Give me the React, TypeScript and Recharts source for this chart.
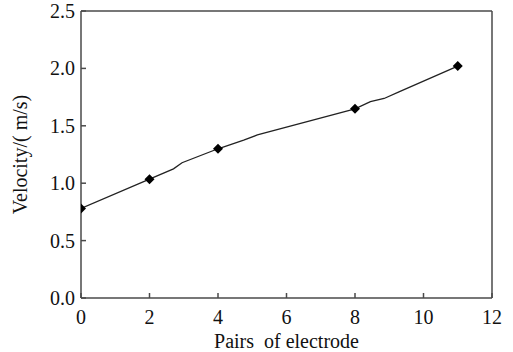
import React from "react";
import { ComposedChart, Line, Scatter, XAxis, YAxis, ReferenceLine, Label } from "recharts";

// measured points (diamonds)
const pointX = [0, 2, 4, 8, 11];
const pointY = [0.78, 1.035, 1.3, 1.648, 2.02];

// traced connecting curve (slightly wavy between the points)
const curveX = [0, 2, 2.7, 2.95, 4, 4.75, 5.15, 8, 8.45, 8.85, 9.3, 11];
const curveY = [0.78, 1.035, 1.125, 1.178, 1.3, 1.376, 1.42, 1.648, 1.71, 1.738, 1.797, 2.02];

const xTicks = [0, 2, 4, 6, 8, 10, 12];
const yTicks = [0, 0.5, 1.0, 1.5, 2.0, 2.5];

const curve = curveX.map((x, i) => ({ x, v: curveY[i] }));
const points = pointX.map((x, i) => ({ x, y: pointY[i] }));

const AXIS = "#4a4a4a";
const FONT = "Liberation Serif";

const XTick = (props: any) => {
  const { x, y, payload } = props;
  return (
    <g>
      <line x1={x} y1={y} x2={x} y2={y - 5} stroke={AXIS} strokeWidth={1.5} />
      <text x={x} y={y + 26} textAnchor="middle" fontSize={20} fontFamily={FONT} fill="#111">
        {payload.value}
      </text>
    </g>
  );
};

const YTick = (props: any) => {
  const { x, y, payload } = props;
  return (
    <g>
      <line x1={x} y1={y} x2={x + 5} y2={y} stroke={AXIS} strokeWidth={1.5} />
      <text x={x - 6} y={y + 7} textAnchor="end" fontSize={20} fontFamily={FONT} fill="#111">
        {Number(payload.value).toFixed(1)}
      </text>
    </g>
  );
};

const Diamond = (props: any) => {
  const { cx, cy } = props;
  const r = 5;
  return <path d={`M${cx},${cy - r}L${cx + r},${cy}L${cx},${cy + r}L${cx - r},${cy}Z`} fill="#000" />;
};

export default function App() {
  return (
    <div style={{ position: "absolute", left: 0, top: 0, background: "#fff" }}>
      <ComposedChart width={513} height={352} margin={{ top: 11, right: 21, left: 0, bottom: 0 }}>
        <XAxis
          dataKey="x"
          type="number"
          domain={[0, 12]}
          ticks={xTicks}
          allowDataOverflow
          height={54}
          tickSize={0}
          tickMargin={0}
          tickLine={false}
          tick={<XTick />}
          stroke={AXIS}
          strokeWidth={1.5}
        >
          <Label
            value={"Pairs\u00a0 of electrode"}
            position="insideBottom"
            offset={4}
            fontSize={20}
            fontFamily={FONT}
            fill="#111"
          />
        </XAxis>
        <YAxis
          type="number"
          domain={[0, 2.5]}
          ticks={yTicks}
          width={81}
          tickSize={0}
          tickMargin={0}
          tickLine={false}
          tick={<YTick />}
          stroke={AXIS}
          strokeWidth={1.5}
        >
          <Label
            value="Velocity/( m/s)"
            angle={-90}
            position="insideLeft"
            offset={20}
            fontSize={20}
            fontFamily={FONT}
            fill="#111"
            style={{ textAnchor: "middle" }}
          />
        </YAxis>
        <ReferenceLine y={2.5} stroke={AXIS} strokeWidth={1.5} />
        <ReferenceLine x={12} stroke={AXIS} strokeWidth={1.5} />
        <Line
          data={curve}
          dataKey="v"
          type="linear"
          stroke="#222"
          strokeWidth={1.3}
          dot={false}
          activeDot={false}
          isAnimationActive={false}
        />
        <Scatter data={points} dataKey="y" shape={<Diamond />} isAnimationActive={false} />
      </ComposedChart>
    </div>
  );
}
